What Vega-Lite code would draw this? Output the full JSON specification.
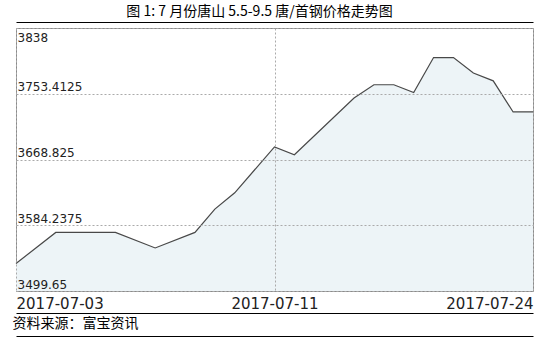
{
  "$schema": "https://vega.github.io/schema/vega-lite/v6.json",
  "width": 517,
  "height": 263,
  "autosize": {"type": "none"},
  "padding": {"left": 16, "top": 28, "right": 14, "bottom": 50},
  "background": "white",
  "config": {"view": {"stroke": "#8a8a8a", "strokeWidth": 1}, "font": "DejaVu Sans"},
  "title": {
    "text": "图 1: 7 月份唐山 5.5-9.5 唐/首钢价格走势图",
    "font": "Noto Sans CJK SC",
    "fontSize": 14,
    "fontWeight": "normal",
    "color": "#000",
    "anchor": "middle",
    "dx": -15,
    "offset": 3
  },
  "data": {
    "values": [
      {"idx": 0, "price": 3535},
      {"idx": 2, "price": 3575},
      {"idx": 5, "price": 3575},
      {"idx": 7, "price": 3555},
      {"idx": 9, "price": 3575},
      {"idx": 10, "price": 3605},
      {"idx": 11, "price": 3626},
      {"idx": 13, "price": 3685},
      {"idx": 14, "price": 3675},
      {"idx": 17, "price": 3748},
      {"idx": 18, "price": 3765},
      {"idx": 19, "price": 3765},
      {"idx": 20, "price": 3755},
      {"idx": 21, "price": 3800},
      {"idx": 22, "price": 3800},
      {"idx": 23, "price": 3780},
      {"idx": 24, "price": 3770},
      {"idx": 25, "price": 3730},
      {"idx": 26, "price": 3730}
    ]
  },
  "layer": [
    {
      "mark": {"type": "area", "color": "#edf4f7", "opacity": 1, "clip": true},
      "encoding": {
        "x": {
          "field": "idx", "type": "quantitative",
          "scale": {"domain": [0, 26], "nice": false, "zero": false},
          "axis": {
            "orient": "bottom",
            "zindex": 1,
            "title": null,
            "values": [0, 13, 26],
            "labelExpr": "datum.value == 0 ? '2017-07-03' : datum.value == 13 ? '2017-07-11' : '2017-07-24'",
            "labelFlush": true,
            "labelFont": "DejaVu Sans",
            "labelFontSize": 15,
            "labelColor": "#222",
            "labelPadding": 5,
            "ticks": false,
            "domain": false,
            "grid": true,
            "gridDash": [2, 2],
            "gridColor": "#aaaaaa",
            "gridWidth": 1
          }
        },
        "y": {
          "field": "price", "type": "quantitative",
          "scale": {"domain": [3499.65, 3838], "nice": false, "zero": false},
          "axis": {
            "orient": "left",
            "zindex": 1,
            "title": null,
            "values": [3499.65, 3584.2375, 3668.825, 3753.4125, 3838],
            "labelExpr": "'' + datum.value",
            "labelAlign": "left",
            "labelPadding": -1,
            "labelFlush": false,
            "labelFont": "DejaVu Sans",
            "labelFontSize": 12,
            "labelColor": "#222",
            "labelBaseline": {"condition": {"test": "datum.value >= 3838", "value": "top"}, "value": "alphabetic"},
            "labelOffset": {"condition": {"test": "datum.value >= 3838", "value": 4}, "value": -3},
            "ticks": false,
            "domain": false,
            "grid": true,
            "gridDash": [2, 2],
            "gridColor": "#aaaaaa",
            "gridWidth": 1
          }
        }
      }
    },
    {
      "mark": {"type": "line", "color": "#484848", "strokeWidth": 1.2},
      "encoding": {
        "x": {
          "field": "idx", "type": "quantitative",
          "axis": {"orient": "top", "offset": 6, "title": null, "labels": false, "ticks": false, "grid": false, "domain": true, "domainColor": "#000", "domainWidth": 1}
        },
        "y": {"field": "price", "type": "quantitative"}
      }
    },
    {
      "mark": {"type": "line", "strokeOpacity": 0},
      "encoding": {
        "x": {
          "field": "idx", "type": "quantitative",
          "axis": {
            "orient": "bottom", "offset": 22, "labels": false, "ticks": false, "grid": false,
            "domain": true, "domainColor": "#000", "domainWidth": 1,
            "title": "资料来源：富宝资讯",
            "titleFont": "Noto Sans CJK SC",
            "titleFontSize": 14,
            "titleFontWeight": "normal",
            "titleColor": "#000",
            "titleAnchor": "start",
            "titleAlign": "left",
            "titleBaseline": "top",
            "titlePadding": 3,
            "titleX": -4
          }
        },
        "y": {"field": "price", "type": "quantitative"}
      }
    },
    {
      "mark": {"type": "line", "strokeOpacity": 0},
      "encoding": {
        "x": {
          "field": "idx", "type": "quantitative",
          "axis": {"orient": "bottom", "offset": 45, "title": null, "labels": false, "ticks": false, "grid": false, "domain": true, "domainColor": "#000", "domainWidth": 1}
        },
        "y": {"field": "price", "type": "quantitative"}
      }
    }
  ],
  "resolve": {"axis": {"x": "independent"}}
}
